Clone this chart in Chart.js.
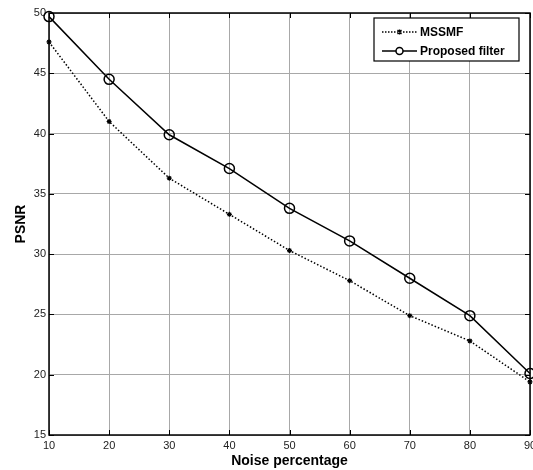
<!DOCTYPE html>
<html>
<head>
<meta charset="utf-8">
<script src="https://cdn.jsdelivr.net/npm/chart.js@4/dist/chart.umd.min.js"></script>
<style>
  html, body { margin: 0; padding: 0; background: #fff; }
  #wrap { width: 533px; height: 470px; position: relative; }
</style>
</head>
<body>
<div id="wrap"><canvas id="psnrChart"></canvas></div>
<script>
// noise levels (%)
const noiseLevels = [10, 20, 30, 40, 50, 60, 70, 80, 90];
// PSNR values
const mssmfPsnr = [47.6, 41.0, 36.3, 33.3, 30.3, 27.8, 24.9, 22.8, 19.4];
const proposedPsnr = [49.7, 44.5, 39.9, 37.1, 33.8, 31.1, 28.0, 24.9, 20.1];
const seriesNames = ['MSSMF', 'Proposed filter'];

const toPoints = (ys) => ys.map((y, i) => ({ x: noiseLevels[i], y: y }));

// frame, inward ticks and legend box, MATLAB style
const framePlugin = {
    id: 'frameAndLegend',
    afterDraw(chart) {
        const { ctx, chartArea: a } = chart;
        const xs = chart.scales.x, ys = chart.scales.y;
        ctx.save();
        ctx.strokeStyle = '#000';

        // inward tick marks
        ctx.lineWidth = 1;
        ctx.beginPath();
        xs.ticks.forEach(t => {
            const px = Math.round(xs.getPixelForValue(t.value)) + 0.5;
            ctx.moveTo(px, a.bottom); ctx.lineTo(px, a.bottom - 5);
            ctx.moveTo(px, a.top); ctx.lineTo(px, a.top + 5);
        });
        ys.ticks.forEach(t => {
            const py = Math.round(ys.getPixelForValue(t.value)) + 0.5;
            ctx.moveTo(a.left, py); ctx.lineTo(a.left + 5, py);
            ctx.moveTo(a.right, py); ctx.lineTo(a.right - 5, py);
        });
        ctx.stroke();

        ctx.lineWidth = 1.5;
        ctx.strokeRect(a.left, a.top, a.right - a.left, a.bottom - a.top);

        // legend
        const bx = 374, by = 18, bw = 145, bh = 43;
        ctx.fillStyle = '#fff';
        ctx.fillRect(bx, by, bw, bh);
        ctx.lineWidth = 1.2;
        ctx.strokeRect(bx, by, bw, bh);

        ctx.font = 'bold 12px "Liberation Sans", Arial, sans-serif';
        ctx.textBaseline = 'middle';
        ctx.fillStyle = '#000';

        // MSSMF row
        let y = 32;
        ctx.lineWidth = 1.3;
        ctx.setLineDash([1.5, 1.5]);
        ctx.beginPath(); ctx.moveTo(382, y); ctx.lineTo(417, y); ctx.stroke();
        ctx.setLineDash([]);
        ctx.beginPath();
        ctx.moveTo(397.5, y - 2); ctx.lineTo(401.5, y + 2);
        ctx.moveTo(397.5, y + 2); ctx.lineTo(401.5, y - 2);
        ctx.moveTo(399.5, y - 2.5); ctx.lineTo(399.5, y + 2.5);
        ctx.stroke();
        ctx.fillText(seriesNames[0], 420, y + 1);

        // Proposed row
        y = 51;
        ctx.lineWidth = 1.5;
        ctx.beginPath(); ctx.moveTo(382, y); ctx.lineTo(417, y); ctx.stroke();
        ctx.fillStyle = '#fff';
        ctx.beginPath(); ctx.arc(399.5, y, 3.5, 0, Math.PI * 2); ctx.fill(); ctx.stroke();
        ctx.fillStyle = '#000';
        ctx.fillText(seriesNames[1], 420, y + 1);
        ctx.restore();
    }
};

new Chart(document.getElementById('psnrChart'), {
    type: 'line',
    data: {
        datasets: [
            {
                label: seriesNames[0],
                data: toPoints(mssmfPsnr),
                borderColor: '#000',
                borderWidth: 1.5,
                borderDash: [1.5, 2],
                pointStyle: 'star',
                pointRadius: 2.5,
                pointBorderWidth: 1.2,
                pointBorderColor: '#000',
                pointBackgroundColor: '#000',
                tension: 0,
                clip: false
            },
            {
                label: seriesNames[1],
                data: toPoints(proposedPsnr),
                borderColor: '#000',
                borderWidth: 1.5,
                pointStyle: 'circle',
                pointRadius: 5,
                pointBorderWidth: 1.5,
                pointBorderColor: '#000',
                pointBackgroundColor: 'rgba(255,255,255,0)',
                tension: 0,
                clip: false
            }
        ]
    },
    options: {
        responsive: true,
        maintainAspectRatio: false,
        animation: false,
        layout: { autoPadding: false, padding: { top: 13, right: 3, left: 0, bottom: 0 } },
        plugins: {
            legend: { display: false },
            tooltip: { enabled: false }
        },
        scales: {
            x: {
                type: 'linear',
                min: 10,
                max: 90,
                ticks: {
                    stepSize: 10,
                    color: '#222',
                    font: { family: '"Liberation Sans", Arial', size: 11 },
                    padding: 4,
                    maxRotation: 0
                },
                grid: { color: '#a8a8a8', lineWidth: 1, drawTicks: false },
                border: { display: false },
                title: {
                    display: true,
                    text: 'Noise percentage',
                    color: '#000',
                    font: { family: '"Liberation Sans", Arial', size: 14, weight: 'bold' },
                    padding: { top: 0, bottom: 0 }
                },
                afterFit(scale) {
                    scale.height = 35;
                    scale.paddingLeft = 0;
                    scale.paddingRight = 0;
                }
            },
            y: {
                min: 15,
                max: 50,
                ticks: {
                    stepSize: 5,
                    color: '#222',
                    font: { family: '"Liberation Sans", Arial', size: 11 },
                    padding: 3
                },
                grid: { color: '#a8a8a8', lineWidth: 1, drawTicks: false },
                border: { display: false },
                title: {
                    display: true,
                    text: 'PSNR',
                    color: '#000',
                    font: { family: '"Liberation Sans", Arial', size: 14, weight: 'bold' },
                    padding: { top: 13, bottom: 0 }
                },
                afterFit(scale) {
                    scale.width = 49;
                    scale.paddingTop = 0;
                    scale.paddingBottom = 0;
                }
            }
        }
    },
    plugins: [framePlugin]
});
</script>
</body>
</html>
